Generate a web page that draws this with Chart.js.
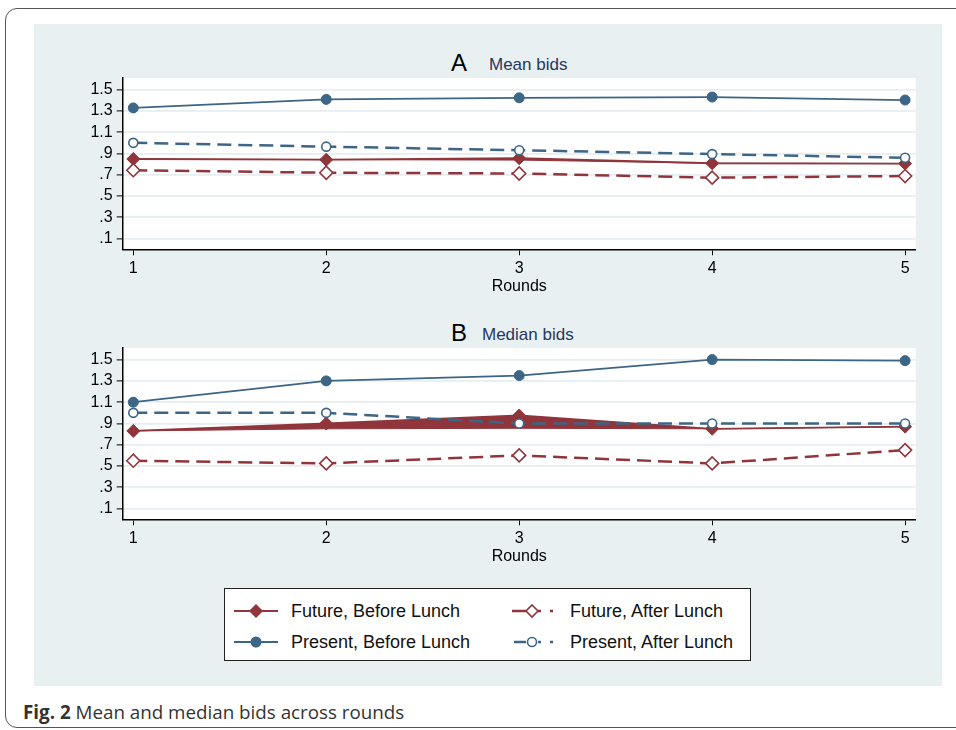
<!DOCTYPE html>
<html>
<head>
<meta charset="utf-8">
<script src="https://cdn.jsdelivr.net/npm/chart.js@4.4.1/dist/chart.umd.min.js"></script>
<style>
  html, body { margin: 0; padding: 0; background: #ffffff; }
  body { width: 956px; height: 730px; position: relative; overflow: hidden; font-family: "Liberation Sans", Arial, sans-serif; }
  #frame { position: absolute; left: 5px; top: 8px; width: 1000px; height: 718px; border: 1.5px solid #555; border-radius: 12px; }
  #panel { position: absolute; left: 34px; top: 24px; width: 908px; height: 662px; background: #e8f0f2; }
  canvas { position: absolute; }
  .ttl { position: absolute; white-space: nowrap; line-height: 1; }
  .big { font-size: 24px; color: #000; }
  .sub { font-size: 17px; color: #26375e; }
  #legend { position: absolute; left: 224px; top: 588px; width: 527px; height: 73px; background: #fff; border: 1.2px solid #222; box-sizing: border-box; }
  .li { position: absolute; font-size: 18px; color: #111; white-space: nowrap; line-height: 1; }
  .sym { position: absolute; }
  #caption { position: absolute; left: 23px; top: 699px; font-family: "Open Sans", "Noto Sans", sans-serif; font-size: 18.8px; color: #333; white-space: nowrap; }
</style>
</head>
<body>
<div id="frame"></div>
<div id="panel"></div>

<div class="ttl big" style="left:451px; top:51px;">A</div>
<div class="ttl sub" style="left:489px; top:56px;">Mean bids</div>
<div class="ttl big" style="left:451px; top:321px;">B</div>
<div class="ttl sub" style="left:482px; top:326px;">Median bids</div>

<canvas id="chartA" width="908" height="230" style="left:34px; top:70px;"></canvas>
<canvas id="chartB" width="908" height="230" style="left:34px; top:340px;"></canvas>

<div id="legend">
  <svg class="sym" style="left:9px; top:12px;" width="46" height="20">
    <line x1="0" y1="10" x2="44" y2="10" stroke="#90353b" stroke-width="2"/>
    <polygon points="22,3 29,10 22,17 15,10" fill="#90353b"/>
  </svg>
  <div class="li" style="left:66px; top:13px;">Future, Before Lunch</div>
  <svg class="sym" style="left:9px; top:43px;" width="46" height="20">
    <line x1="0" y1="10" x2="44" y2="10" stroke="#3d6585" stroke-width="2"/>
    <circle cx="22" cy="10" r="5.5" fill="#3d6585"/>
  </svg>
  <div class="li" style="left:66px; top:44px;">Present, Before Lunch</div>
  <svg class="sym" style="left:285px; top:12px;" width="46" height="20">
    <line x1="2" y1="10" x2="16" y2="10" stroke="#90353b" stroke-width="2.5"/>
    <line x1="28" y1="10" x2="31" y2="10" stroke="#90353b" stroke-width="2.5"/>
    <line x1="40" y1="10" x2="43" y2="10" stroke="#90353b" stroke-width="2.5"/>
    <polygon points="22,4 28,10 22,16 16,10" fill="#fff" stroke="#90353b" stroke-width="1.6"/>
  </svg>
  <div class="li" style="left:345px; top:13px;">Future, After Lunch</div>
  <svg class="sym" style="left:285px; top:43px;" width="46" height="20">
    <line x1="4" y1="10" x2="16" y2="10" stroke="#3d6585" stroke-width="2.5"/>
    <line x1="28" y1="10" x2="31" y2="10" stroke="#3d6585" stroke-width="2.5"/>
    <line x1="40" y1="10" x2="43" y2="10" stroke="#3d6585" stroke-width="2.5"/>
    <circle cx="22" cy="10" r="4.5" fill="#fff" stroke="#3d6585" stroke-width="1.6"/>
  </svg>
  <div class="li" style="left:345px; top:44px;">Present, After Lunch</div>
</div>

<div id="caption"><b>Fig. 2</b> Mean and median bids across rounds</div>

<script>
// ---- Data ----
const rounds = [1, 2, 3, 4, 5];
const yTicks = [0.1, 0.3, 0.5, 0.7, 0.9, 1.1, 1.3, 1.5];

// Panel A: mean bids
const meanFutureBefore   = [0.848, 0.842, 0.855, 0.808, 0.805];
const meanFutureBeforeLo = [0.848, 0.842, 0.838, 0.808, 0.805];
const meanFutureAfter    = [0.743, 0.719, 0.712, 0.673, 0.688];
const meanPresentBefore  = [1.328, 1.408, 1.423, 1.430, 1.402];
const meanPresentAfter   = [1.000, 0.964, 0.931, 0.894, 0.860];

// Panel B: median bids
const medFutureBefore    = [0.83, 0.90, 0.975, 0.85, 0.87];
const medFutureBeforeLo  = [0.83, 0.85, 0.855, 0.85, 0.87];
const medFutureAfter     = [0.55, 0.525, 0.60, 0.525, 0.65];
const medPresentBefore   = [1.10, 1.30, 1.35, 1.50, 1.49];
const medPresentAfter    = [1.00, 1.00, 0.90, 0.90, 0.90];

// ---- Styles ----
const RED = '#90353b';
const BLUE = '#3d6585';

function pts(vals) { return rounds.map((r, i) => ({ x: r, y: vals[i] })); }

function makeDatasets(fb, fbLo, fa, pb, pa) {
  return [
    { label: 'Present, After Lunch', data: pts(pa), order: 0,
      borderColor: BLUE, borderWidth: 2.5, borderDash: [14, 7],
      pointStyle: 'circle', pointRadius: 4.5, pointBackgroundColor: '#fff',
      pointBorderColor: BLUE, pointBorderWidth: 1.6, fill: false },
    { label: 'Present, Before Lunch', data: pts(pb), order: 1,
      borderColor: BLUE, borderWidth: 1.8,
      pointStyle: 'circle', pointRadius: 5, pointBackgroundColor: BLUE,
      pointBorderColor: BLUE, pointBorderWidth: 1, fill: false },
    { label: 'Future, After Lunch', data: pts(fa), order: 2,
      borderColor: RED, borderWidth: 2.5, borderDash: [14, 7],
      pointStyle: 'rectRot', pointRadius: 6.5, pointBackgroundColor: '#fff',
      pointBorderColor: RED, pointBorderWidth: 1.6, fill: false },
    { label: 'Future, Before Lunch', data: pts(fb), order: 3,
      borderColor: RED, borderWidth: 1.8,
      pointStyle: 'rectRot', pointRadius: 6.5, pointBackgroundColor: RED,
      pointBorderColor: RED, pointBorderWidth: 1, fill: false },
    { label: 'band', data: pts(fbLo), order: 4,
      borderColor: RED, borderWidth: 1, pointRadius: 0,
      backgroundColor: RED, fill: 3 }
  ];
}

const whiteArea = {
  id: 'whiteArea',
  beforeDraw(chart) {
    const { ctx, chartArea: a } = chart;
    ctx.save();
    ctx.fillStyle = '#ffffff';
    ctx.fillRect(a.left, a.top, a.right - a.left, a.bottom - a.top);
    ctx.restore();
  }
};

function fmt(v) {
  const s = Number(v).toFixed(1);
  return s.startsWith('0') ? s.slice(1) : s;
}

function makeChart(id, datasets) {
  return new Chart(document.getElementById(id), {
    type: 'line',
    data: { datasets },
    plugins: [whiteArea],
    options: {
      responsive: false,
      animation: false,
      devicePixelRatio: 1,
      layout: { padding: { top: 5, right: 26.3, left: 0, bottom: 0 } },
      plugins: { legend: { display: false }, tooltip: { enabled: false }, title: { display: false } },
      scales: {
        x: {
          type: 'linear', min: 0.945, max: 5.055,
          afterBuildTicks: (s) => { s.ticks = rounds.map(v => ({ value: v })); },
          afterFit: (s) => { s.height = 50.7; s.paddingLeft = 0; s.paddingRight = 0; },
          grid: { drawOnChartArea: false, drawTicks: true, tickLength: 6, tickColor: '#000', tickWidth: 1 },
          border: { display: true, color: '#000', width: 1.5 },
          ticks: { color: '#000', font: { family: '"Liberation Sans", Arial, sans-serif', size: 16 }, padding: 4, maxRotation: 0,
                   callback: (v) => String(v) },
          title: { display: true, text: 'Rounds', color: '#000',
                   font: { family: '"Liberation Sans", Arial, sans-serif', size: 16 }, padding: { top: 0, bottom: 4 } }
        },
        y: {
          type: 'linear', min: 0, max: 1.608,
          afterBuildTicks: (s) => { s.ticks = yTicks.map(v => ({ value: v })); },
          afterFit: (s) => { s.width = 88.7; s.paddingTop = 0; s.paddingBottom = 0; },
          grid: { color: '#e6eef1', lineWidth: 1.8, drawTicks: true, tickLength: 6, tickColor: '#000', tickWidth: 1 },
          border: { display: true, color: '#000', width: 1.5 },
          ticks: { color: '#000', font: { family: '"Liberation Sans", Arial, sans-serif', size: 16 }, padding: 4,
                   callback: (v) => fmt(v) }
        }
      }
    }
  });
}

makeChart('chartA', makeDatasets(meanFutureBefore, meanFutureBeforeLo, meanFutureAfter, meanPresentBefore, meanPresentAfter));
makeChart('chartB', makeDatasets(medFutureBefore, medFutureBeforeLo, medFutureAfter, medPresentBefore, medPresentAfter));
</script>
</body>
</html>
